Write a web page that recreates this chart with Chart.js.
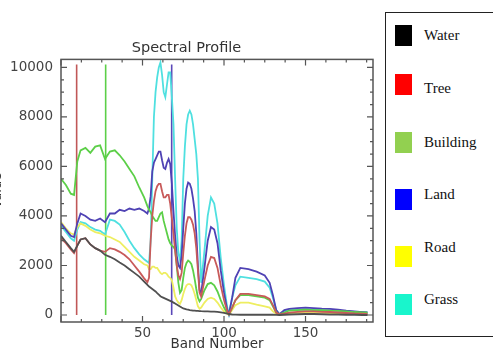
<!DOCTYPE html>
<html lang="en">
<head>
<meta charset="UTF-8">
<title>Spectral Profile</title>
<script src="https://cdn.jsdelivr.net/npm/chart.js"></script>
<style>
  html, body { margin:0; padding:0; background:#fff; overflow:hidden; }
  #wrap { position:absolute; left:0; top:0; width:493px; height:354px; overflow:hidden; }
  #chart { position:absolute; left:0; top:0; }
  #legend { position:absolute; left:385px; top:12px; width:160px; height:325px; border-top:1.5px solid #222; border-left:1.5px solid #222; border-bottom:1.5px solid #222; box-sizing:border-box; }
  .sw { position:absolute; left:395px; width:17px; height:21px; }
  .lb { position:absolute; left:424px; font-family:'Liberation Serif',serif; font-size:15px; color:#111; line-height:18px; }
</style>
</head>
<body>
<div id="wrap">
<canvas id="chart" width="380" height="354"></canvas>
<div id="legend"></div>
</div>

<script>
// band positions shared by all series
const bands = [0,3,6,8,10,12,15,18,21,24,27,30,33,36,39,42,45,48,51,53,54,55,56,57,58,59,60,61,62,63,64,65,66,67,68,69,70,71,72,73,74,75,76,77,78,79,80,81,82,83,84,85,86,88,90,92,94,96,98,100,102,103,105,107,110,115,120,125,128,130,132,134,137,140,145,150,155,160,165,170,175,180,185,188];

const water = [3200,2950,2700,2550,2800,3050,3100,2850,2700,2600,
  2430,2350,2250,2120,2000,1850,1700,1550,1350,1220,
  1150,1100,1050,1000,950,880,820,760,720,690,
  660,630,600,570,540,500,460,420,380,340,
  300,270,250,230,215,200,190,180,175,170,
  165,160,155,150,145,140,135,125,110,90,
  60,40,20,15,10,10,10,10,10,10,
  5,0,10,20,30,40,40,30,20,20,
  10,10,0,0];

const tree = [3100,2900,2650,2500,2800,3050,3100,2850,2700,2600,
  2550,2700,2650,2550,2420,2250,2000,1750,1480,1320,
  1500,3000,4000,4600,5000,5200,5300,5300,5000,4750,
  4750,4850,4850,4500,3900,3300,2600,2000,1600,1450,
  1700,2500,3200,3700,3950,3950,3850,3650,3300,2700,
  1800,900,750,1400,2000,2350,2300,1900,1200,600,
  150,30,300,600,850,850,800,750,650,400,
  100,20,60,100,130,150,150,130,120,100,
  80,60,50,40];

const building = [5500,5250,4900,4850,6200,6650,6750,6550,6800,6850,
  6300,6600,6650,6450,6200,5900,5600,5150,4750,4400,
  4250,4150,4000,3900,3800,3800,3950,4100,4150,3800,
  3550,3300,3050,2900,2800,2750,2650,2000,1300,900,
  1000,1500,1900,2100,2200,2150,2050,1800,1450,1050,
  700,550,650,1000,1250,1300,1200,950,600,300,
  80,20,300,600,800,800,750,700,600,350,
  100,30,100,180,200,220,200,200,180,170,
  150,120,100,90];

const land = [3700,3450,3200,3150,3700,4100,4000,3850,3800,3900,
  3750,4100,4100,4250,4200,4300,4250,4300,4200,4100,
  4300,4800,5800,6150,6300,6450,6600,6600,6250,5950,
  5900,6150,6300,6100,5300,4200,3200,2400,2000,1900,
  2400,3500,4500,5100,5350,5300,5100,4700,4200,3300,
  2000,1000,900,1900,3000,3550,3450,2900,1800,900,
  200,30,700,1500,1900,1850,1750,1600,1300,800,
  200,30,200,250,280,300,280,260,250,220,
  180,150,120,100];

const road = [3750,3500,3300,3250,3550,3700,3600,3450,3350,3300,
  3200,3150,3050,2950,2750,2550,2350,2200,2050,2000,
  1850,1850,1950,1950,1900,1900,1800,1700,1650,1700,
  1700,1650,1550,1500,1400,1100,750,600,500,450,
  600,850,1050,1200,1250,1250,1200,1050,850,600,
  350,250,300,500,650,700,650,500,300,150,
  50,10,200,400,500,500,420,350,300,150,
  50,10,50,80,90,100,100,90,80,80,
  60,50,40,30];

const grass = [3600,3350,3100,3000,3450,3750,3700,3550,3450,3400,
  3250,3850,3800,3650,3350,3000,2700,2450,2250,2150,
  2100,3000,5500,8000,9000,9600,10000,10200,9700,9000,
  8800,9300,9800,9800,8800,7700,5500,3500,2500,2200,
  3000,5500,6800,7700,8100,8250,8100,7700,7100,6500,
  5500,3000,1300,2600,4000,4750,4500,3700,2300,1200,
  300,30,700,1200,1550,1500,1450,1350,1100,700,
  200,30,150,200,220,230,220,200,190,170,
  150,130,110,100];

// vertical band markers
const markerBands = [9.6, 27.4, 67.9];
const markerTop = 10120;

const seriesNames = ['Water','Tree','Building','Land','Road','Grass'];
const seriesValues = [water, tree, building, land, road, grass];
const lineColors = ['#505050','#c85a5a','#5ccf48','#4f42b4','#eeee60','#4fe0e0'];
const markerColors = ['#c05858','#5ccf48','#5a48b8'];

const legendColors = ['#000000','#ff0000','#92d050','#0000ff','#ffff00','#19f5cc'];
const legendBoxTop = [25,74,132,189,246,294];
const legendTextTop = [26,79,133,185,238,290];

const yTicks = [0,2000,4000,6000,8000,10000];
const xTicks = [0,50,100,150];

// legend (html box on the right)
const wrap = document.getElementById('wrap');
seriesNames.forEach((n,i) => {
  const s = document.createElement('div');
  s.className = 'sw'; s.style.top = legendBoxTop[i]+'px'; s.style.background = legendColors[i];
  wrap.appendChild(s);
  const t = document.createElement('div');
  t.className = 'lb'; t.style.top = legendTextTop[i]+'px'; t.textContent = n;
  wrap.appendChild(t);
});

const datasets = seriesValues.map((vals,i) => ({
  label: seriesNames[i],
  data: bands.map((b,j) => ({x:b, y:vals[j]})),
  borderColor: lineColors[i],
  borderWidth: 1.8,
  pointRadius: 0,
  tension: 0,
  fill: false
}));
markerBands.forEach((b,i) => datasets.push({
  label: 'marker'+i,
  data: [{x:b, y:0}, {x:b, y:markerTop}],
  borderColor: markerColors[i],
  borderWidth: 1.6,
  pointRadius: 0
}));

// frame + inward ticks, IDL style
const frame = {
  id: 'frame',
  afterDatasetsDraw(chart) {
    const {ctx, chartArea:a, scales:{x, y}} = chart;
    ctx.save();
    ctx.strokeStyle = '#555';
    ctx.lineWidth = 1.5;
    ctx.strokeRect(a.left, a.top, a.right - a.left, a.bottom - a.top);
    ctx.lineWidth = 1.2;
    ctx.beginPath();
    for (let v = 0; v <= x.max; v += 12.5) {
      const px = x.getPixelForValue(v), len = v % 50 === 0 ? 6 : 3;
      ctx.moveTo(px, a.bottom); ctx.lineTo(px, a.bottom - len);
      ctx.moveTo(px, a.top); ctx.lineTo(px, a.top + len);
    }
    for (let v = 0; v <= y.max; v += 500) {
      const py = y.getPixelForValue(v), len = v % 2000 === 0 ? 6 : 3;
      ctx.moveTo(a.left, py); ctx.lineTo(a.left + len, py);
      ctx.moveTo(a.right, py); ctx.lineTo(a.right - len, py);
    }
    ctx.stroke();
    ctx.restore();
  }
};

new Chart(document.getElementById('chart'), {
  type: 'line',
  data: { datasets },
  options: {
    responsive: false,
    animation: false,
    devicePixelRatio: 1,
    layout: { padding: { left: 0, right: 7, top: 0, bottom: 0 } },
    plugins: {
      legend: { display: false },
      tooltip: { enabled: false },
      title: {
        display: true, text: 'Spectral Profile', color: '#333',
        font: { family: 'DejaVu Sans', size: 14.5, weight: 'normal' },
        padding: { top: 40, bottom: 2 }
      }
    },
    scales: {
      x: {
        type: 'linear', min: 0, max: 191.4,
        afterFit: s => { s.height = 32; },
        afterBuildTicks: s => { s.ticks = xTicks.map(v => ({value:v})); },
        grid: { display: false, drawTicks: false },
        border: { display: false },
        ticks: {
          color: '#444', padding: 3, maxRotation: 0,
          font: { family: 'DejaVu Sans', size: 13.5 },
          callback: v => v === 0 ? '' : String(v)
        },
        title: {
          display: true, text: 'Band Number', color: '#333',
          font: { family: 'DejaVu Sans', size: 13.5 },
          padding: { top: 0, bottom: 1 }
        }
      },
      y: {
        min: -283, max: 10324,
        afterFit: s => { s.width = 61; },
        afterBuildTicks: s => { s.ticks = yTicks.map(v => ({value:v})); },
        grid: { display: false, drawTicks: false },
        border: { display: false },
        ticks: {
          color: '#444', padding: 8,
          font: { family: 'DejaVu Sans', size: 13.5 },
          callback: v => String(v)
        },
        title: {
          display: true, text: 'Value', color: '#333',
          font: { family: 'DejaVu Sans', size: 13 },
          padding: { top: -10, bottom: 0 }
        }
      }
    }
  },
  plugins: [frame]
});
</script>
</body>
</html>
